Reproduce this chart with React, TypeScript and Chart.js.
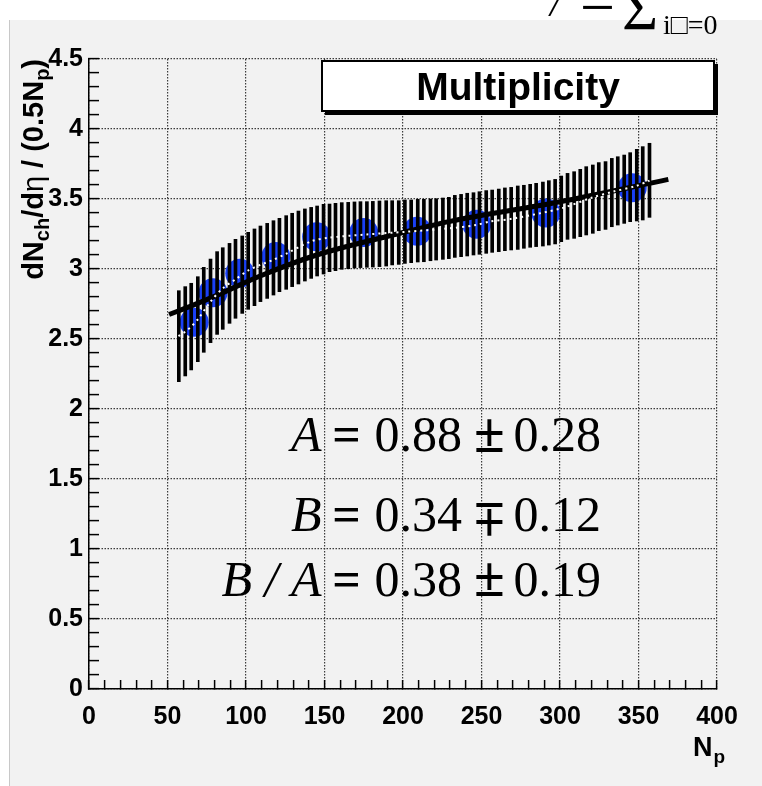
import { useEffect, useRef } from "react";
import { Chart, registerables } from "chart.js";

Chart.register(...registerables);

const W = 762;
const H = 786;

// ---- tick labels ----
const xTickLabels = [0, 50, 100, 150, 200, 250, 300, 350, 400];
const yTickLabels = [0, 0.5, 1, 1.5, 2, 2.5, 3, 3.5, 4, 4.5];

// ---- measured points (blue circles) ----
const pointNp = [67, 79, 96, 119, 145, 175, 209, 247, 291, 346];
const pointMult = [2.62, 2.83, 2.97, 3.09, 3.23, 3.26, 3.27, 3.32, 3.4, 3.58];

// ---- fit curve (thick black) ----
const fitNp = [51, 66, 81, 109, 145, 198, 230, 300, 369];
const fitMult = [2.675, 2.74, 2.81, 2.95, 3.1, 3.255, 3.34, 3.48, 3.64];

// ---- uncertainty band (vertical bars) ----
const bandNp = [
  57.2, 61.3, 65.1, 69.3, 73.1, 77.4, 81.6, 85.2, 89.5, 93.3, 97.6, 101.4, 105.4, 109.2, 113.5, 117.5,
  121.3, 125.6, 129.4, 133.4, 137.5, 141.5, 145.3, 149.4, 153.2, 157.0, 161.0, 165.1, 169.1, 172.9,
  177.0, 180.8, 185.0, 189.3, 193.1, 197.3, 201.2, 205.2, 209.4, 213.3, 217.5, 221.1, 225.4, 229.2,
  233.0, 237.0, 240.9, 244.9, 248.7, 253.0, 256.8, 261.0, 264.9, 268.9, 273.1, 277.0, 281.0, 284.8,
  289.1, 292.9, 296.9, 300.8, 304.8, 309.0, 312.9, 316.7, 320.9, 324.7, 329.0, 333.0, 336.8, 340.9,
  344.7, 348.9, 352.7, 357.0,
];
const bandHigh = [
  2.845, 2.874, 2.898, 2.945, 3.012, 3.071, 3.124, 3.152, 3.183, 3.212, 3.236, 3.262, 3.286, 3.307, 3.326, 3.345,
  3.362, 3.381, 3.398, 3.414, 3.429, 3.44, 3.45, 3.462, 3.464, 3.469, 3.474, 3.476, 3.479, 3.481,
  3.481, 3.483, 3.486, 3.488, 3.488, 3.488, 3.493, 3.493, 3.498, 3.498, 3.5, 3.502, 3.507, 3.512,
  3.526, 3.533, 3.541, 3.545, 3.552, 3.56, 3.564, 3.571, 3.579, 3.583, 3.593, 3.598, 3.605, 3.612,
  3.621, 3.631, 3.64, 3.664, 3.683, 3.695, 3.712, 3.731, 3.743, 3.76, 3.767, 3.79, 3.802, 3.814,
  3.831, 3.855, 3.874, 3.898,
];
const bandLow = [
  2.195, 2.236, 2.279, 2.338, 2.405, 2.474, 2.533, 2.569, 2.612, 2.648, 2.683, 2.712, 2.738, 2.767, 2.79, 2.814,
  2.838, 2.855, 2.874, 2.893, 2.914, 2.933, 2.95, 2.964, 2.981, 2.988, 2.998, 3.002, 3.007, 3.01,
  3.012, 3.014, 3.017, 3.021, 3.029, 3.033, 3.04, 3.045, 3.05, 3.052, 3.059, 3.064, 3.069, 3.074,
  3.083, 3.088, 3.093, 3.1, 3.105, 3.112, 3.119, 3.124, 3.131, 3.136, 3.14, 3.148, 3.155, 3.16,
  3.164, 3.171, 3.179, 3.195, 3.212, 3.219, 3.231, 3.243, 3.255, 3.274, 3.283, 3.302, 3.314, 3.326,
  3.338, 3.343, 3.35, 3.369,
];

// ---- band centre (white dotted) ----
const centreNp = [57, 61.3, 65.5, 69.3, 77.4, 85.2, 93.3, 101.2, 109, 117.1, 125.2, 141.5, 153.2, 177, 202, 229, 246.6, 255, 270, 300.8, 320.9, 333.6, 348.5, 357];
const centreMult = [2.52, 2.552, 2.593, 2.64, 2.767, 2.862, 2.926, 2.988, 3.029, 3.064, 3.107, 3.198, 3.224, 3.247, 3.266, 3.29, 3.314, 3.338, 3.36, 3.433, 3.512, 3.552, 3.593, 3.631];

// ---- texts ----
const legendTitle = "Multiplicity";
const eqLeft = ["A", "B", "B / A"];
const eqValue = ["0.88", "0.34", "0.38"];
const eqSignFlipped = [false, true, false]; // "±" or "∓"
const eqError = ["0.28", "0.12", "0.19"];

const SANS = "'Liberation Sans', Arial, Helvetica, sans-serif";
const SERIF = "'Liberation Serif', 'Times New Roman', serif";

const isMajor = (v: number, step: number) => Math.abs(v / step - Math.round(v / step)) < 1e-6;

const decorPlugin = {
  id: "decor",
  beforeDraw(chart: any) {
    const ctx = chart.ctx;
    ctx.save();
    ctx.fillStyle = "#ffffff";
    ctx.fillRect(0, 0, W, H);
    ctx.fillStyle = "#f2f2f2";
    ctx.fillRect(9, 20, W - 9, H - 20);
    ctx.strokeStyle = "#c8c8c8";
    ctx.lineWidth = 1;
    ctx.beginPath();
    ctx.moveTo(9.5, 20);
    ctx.lineTo(9.5, H);
    ctx.stroke();
    ctx.restore();
  },
  afterDraw(chart: any) {
    const ctx = chart.ctx;
    const ca = chart.chartArea;
    const xs = chart.scales.x;
    const ys = chart.scales.y;
    ctx.save();

    // legend box with shadow
    const bl = 322, bt = ca.top + 2, br = ca.right - 3, bb = ca.top + 52;
    ctx.fillStyle = "#000";
    ctx.fillRect(bl + 3, bt + 3, br - bl + 1, bb - bt + 1);
    ctx.fillStyle = "#ffffff";
    ctx.fillRect(bl, bt, br - bl, bb - bt);
    ctx.strokeStyle = "#000";
    ctx.lineWidth = 2;
    ctx.strokeRect(bl, bt, br - bl, bb - bt);
    ctx.fillStyle = "#000";
    ctx.font = `bold 39px ${SANS}`;
    ctx.textAlign = "center";
    ctx.textBaseline = "alphabetic";
    ctx.fillText(legendTitle, (bl + br) / 2, bt + 39);

    // equations
    const eqX = xs.getPixelForValue(164);
    const baselines = [ys.getPixelForValue(1.7), ys.getPixelForValue(1.13), ys.getPixelForValue(0.665)];
    for (let i = 0; i < eqLeft.length; i++) {
      const by = baselines[i];
      ctx.textBaseline = "alphabetic";
      ctx.font = `italic 50px ${SERIF}`;
      ctx.textAlign = "right";
      ctx.fillText(eqLeft[i], eqX - 25, by);
      ctx.font = `bold 50px ${SERIF}`;
      ctx.textAlign = "center";
      ctx.fillText("=", eqX, by);
      ctx.font = `50px ${SERIF}`;
      ctx.textAlign = "left";
      ctx.fillText(eqValue[i], eqX + 28, by);
      ctx.fillText(eqError[i], eqX + 167, by);
      // plus-minus sign (flipped vertically for minus-plus)
      ctx.save();
      ctx.font = `bold 56px ${SERIF}`;
      ctx.textAlign = "center";
      ctx.translate(eqX + 143, by - 13.5);
      if (eqSignFlipped[i]) ctx.scale(1, -1);
      ctx.fillText("\u00B1", 0, 14);
      ctx.restore();
    }

    // x axis title N_p
    ctx.textAlign = "left";
    ctx.textBaseline = "alphabetic";
    ctx.font = `bold 27px ${SANS}`;
    const nx = ca.right - 24;
    ctx.fillText("N", nx, 756);
    const nw = ctx.measureText("N").width;
    ctx.font = `bold 19px ${SANS}`;
    ctx.fillText("p", nx + nw + 1, 763);

    // y axis title (rotated)
    const pieces = [
      { t: "dN", f: `bold 29px ${SANS}`, dy: 0 },
      { t: "ch", f: `bold 20px ${SANS}`, dy: 6 },
      { t: "/d", f: `bold 29px ${SANS}`, dy: 0 },
      { t: "\u03B7", f: `29px ${SANS}`, dy: 0 },
      { t: " / (0.5N", f: `bold 29px ${SANS}`, dy: 0 },
      { t: "p", f: `bold 20px ${SANS}`, dy: 6 },
      { t: ")", f: `bold 29px ${SANS}`, dy: 0 },
    ];
    let total = 0;
    for (const p of pieces) {
      ctx.font = p.f;
      total += ctx.measureText(p.t).width;
    }
    ctx.save();
    ctx.translate(43, ca.top);
    ctx.rotate(-Math.PI / 2);
    let px = -total;
    ctx.textAlign = "left";
    for (const p of pieces) {
      ctx.font = p.f;
      ctx.fillText(p.t, px, p.dy);
      px += ctx.measureText(p.t).width;
    }
    ctx.restore();

    // clipped formula fragment at the top
    ctx.font = `italic 40px ${SERIF}`;
    ctx.textAlign = "left";
    ctx.fillText("/", 550, 16);
    ctx.font = `62px ${SERIF}`;
    ctx.fillText("\u2212", 580, 28);
    ctx.fillText("\u03A3", 622, 29);
    ctx.font = `28px ${SERIF}`;
    ctx.fillText("i\u25A1=0", 663, 34);

    ctx.restore();
  },
};

export default function App() {
  const ref = useRef<HTMLCanvasElement>(null);

  useEffect(() => {
    const canvas = ref.current;
    if (!canvas) return;

    const gridColor = (c: any, step: number) =>
      c.tick && isMajor(c.tick.value, step) ? "rgba(40,40,40,0.9)" : "rgba(0,0,0,0)";

    const chart = new Chart(canvas, {
      type: "scatter",
      data: {
        datasets: [
          {
            type: "line",
            label: "centre",
            data: centreNp.map((x, i) => ({ x, y: centreMult[i] })),
            borderColor: "#ffffff",
            borderWidth: 2,
            borderDash: [2, 4],
            pointRadius: 0,
            showLine: true,
            fill: false,
            tension: 0.3,
            order: 0,
          } as any,
          {
            type: "line",
            label: "fit",
            data: fitNp.map((x, i) => ({ x, y: fitMult[i] })),
            borderColor: "#000000",
            borderWidth: 5,
            borderCapStyle: "butt",
            pointRadius: 0,
            showLine: true,
            fill: false,
            cubicInterpolationMode: "monotone",
            order: 1,
          } as any,
          {
            type: "bar",
            label: "band",
            data: bandNp.map((x, i) => ({ x, y: [bandLow[i], bandHigh[i]] })),
            backgroundColor: "#000000",
            borderWidth: 0,
            barThickness: 3,
            order: 2,
          } as any,
          {
            type: "scatter",
            label: "data",
            data: pointNp.map((x, i) => ({ x, y: pointMult[i] })),
            pointRadius: 14.5,
            pointBackgroundColor: "#1a40f5",
            pointBorderColor: "#1a40f5",
            pointBorderWidth: 0,
            showLine: false,
            order: 3,
          } as any,
        ],
      },
      options: {
        responsive: false,
        animation: false,
        devicePixelRatio: 1,
        events: [],
        layout: { padding: { left: 0, right: W - 717, top: 59, bottom: 0 } },
        plugins: { legend: { display: false }, tooltip: { enabled: false }, title: { display: false } },
        scales: {
          x: {
            type: "linear",
            min: 0,
            max: 400,
            offset: false,
            ticks: {
              stepSize: 10,
              autoSkip: false,
              maxRotation: 0,
              padding: 22,
              color: "#000",
              font: { family: SANS, size: 25, weight: "bold" },
              callback: (v: any) => (xTickLabels.some((t) => Math.abs(t - v) < 1e-6) ? String(v) : ""),
            },
            grid: {
              offset: false,
              color: (c: any) => gridColor(c, 50),
              lineWidth: 1.2,
              tickLength: -9,
              tickColor: "#000",
              tickWidth: 1.5,
              drawTicks: true,
            },
            border: { display: true, color: "#000", width: 1.5, dash: [1.5, 1.5] },
            afterFit: (s: any) => {
              s.height = H - 689;
            },
          },
          y: {
            type: "linear",
            min: 0,
            max: 4.5,
            ticks: {
              stepSize: 0.1,
              autoSkip: false,
              padding: 16,
              color: "#000",
              font: { family: SANS, size: 25, weight: "bold" },
              callback: (v: any) => {
                const hit = yTickLabels.find((t) => Math.abs(t - v) < 1e-6);
                return hit === undefined ? "" : String(hit);
              },
            },
            grid: {
              color: (c: any) => gridColor(c, 0.5),
              lineWidth: 1.2,
              tickLength: -10,
              tickColor: "#000",
              tickWidth: 1.5,
              drawTicks: true,
            },
            border: { display: true, color: "#000", width: 1.5, dash: [1.5, 1.5] },
            afterFit: (s: any) => {
              s.width = 89;
            },
          },
        },
      } as any,
      plugins: [decorPlugin],
    });

    return () => chart.destroy();
  }, []);

  return (
    <div style={{ position: "absolute", left: 0, top: 0, width: W, height: H }}>
      <canvas ref={ref} width={W} height={H} style={{ display: "block", width: W, height: H }} />
    </div>
  );
}
